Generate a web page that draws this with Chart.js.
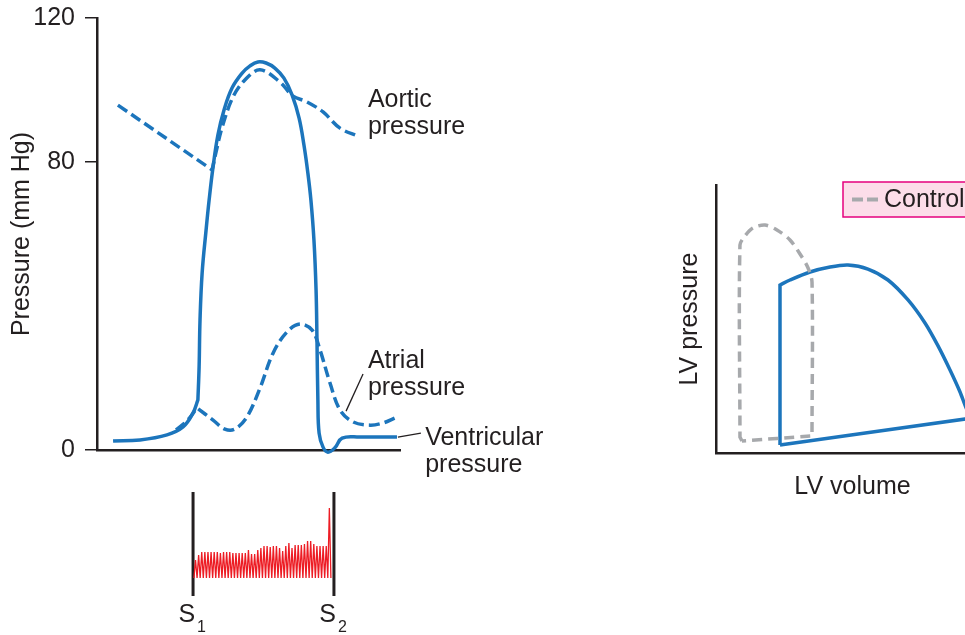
<!DOCTYPE html>
<html>
<head>
<meta charset="utf-8">
<script src="https://cdn.jsdelivr.net/npm/chart.js@4.4.0/dist/chart.umd.min.js"></script>
<style>
  html, body { margin: 0; padding: 0; background: #fff; overflow: hidden; width: 965px; height: 635px; }
  canvas { position: absolute; }
  #pressureChart { left: 0; top: 0; }
  #phonoChart { left: 0; top: 480px; }
  #loopChart { left: 620px; top: 150px; }
</style>
</head>
<body>
<canvas id="pressureChart" width="560" height="480"></canvas>
<canvas id="phonoChart" width="560" height="155"></canvas>
<canvas id="loopChart" width="500" height="360"></canvas>
<script>
// Left panel: time runs 0..1 across the axis, pressure in mm Hg
const pressureTicks = [0, 80, 120];

const ventricularTime = [0.053, 0.142, 0.231, 0.284, 0.317, 0.333, 0.333, 0.337, 0.340, 0.347, 0.360, 0.370, 0.383, 0.399, 0.419, 0.446, 0.479, 0.505, 0.531, 0.558, 0.587, 0.617, 0.644, 0.667, 0.683, 0.696, 0.706, 0.716, 0.723, 0.726, 0.729, 0.733, 0.746, 0.762, 0.785, 0.809, 0.868, 0.990];
const ventricularPressure = [2.5, 2.8, 4.2, 6.4, 10.3, 13.9, 13.9, 23.1, 36.1, 49.2, 61.1, 69.4, 78.6, 87.5, 94.4, 100.6, 104.7, 106.7, 107.8, 107.5, 106.1, 103.3, 98.6, 92.2, 84.7, 76.9, 69.4, 58.3, 44.4, 30.6, 13.9, 4.7, 0.8, -0.6, 0.6, 3.3, 3.6, 3.6];

const aorticTime = [0.069, 0.380, 0.380, 0.393, 0.413, 0.449, 0.488, 0.538, 0.604, 0.647, 0.693, 0.746, 0.802, 0.861];
const aorticPressure = [95.8, 77.8, 77.8, 82.8, 89.7, 98.1, 102.8, 105.6, 102.2, 98.3, 96.7, 93.9, 89.4, 87.2];

const atrialTime = [0.261, 0.297, 0.330, 0.330, 0.383, 0.422, 0.455, 0.495, 0.538, 0.581, 0.627, 0.670, 0.710, 0.736, 0.769, 0.802, 0.845, 0.901, 0.944, 0.983];
const atrialPressure = [5.6, 8.1, 11.7, 11.7, 8.3, 5.8, 5.8, 9.2, 17.2, 26.9, 32.8, 35.0, 33.3, 27.8, 18.6, 11.1, 7.8, 6.9, 7.5, 8.9];

// Phonocardiogram: heart sound times and murmur peak amplitudes
const soundTimes = [0.317, 0.782];
const soundNames = ["1", "2"];
const murmurStart = 0.320;
const murmurEnd = 0.772;
const murmurPeaks = [18, 23, 26, 26, 26, 26, 26, 26, 25, 26, 26, 26, 25, 25, 25, 25, 25, 28, 24, 24, 28, 30, 32, 32, 31, 32, 32, 30, 27, 32, 35, 30, 33, 33, 33, 34, 37, 37, 34, 32, 32, 32, 32, 70];

// Right panel: LV volume (mL) vs LV pressure (mm Hg)
const controlVolume = [37.1, 35.8, 35.8, 35.8, 39.1, 44.4, 52.3, 60.2, 68.8, 75.4, 80.7, 83.3, 83.3, 83.3, 37.1];
const controlPressure = [9.0, 11.9, 11.9, 155.2, 161.9, 167.9, 170.1, 166.4, 159.0, 148.5, 138.1, 127.6, 12.7, 12.7, 9.0];
const loopVolume = [62.2, 62.2, 62.2, 62.2, 68.8, 82.0, 95.2, 107.0, 120.2, 133.4, 146.6, 157.8, 166.4, 174.3, 180.9, 185.5, 188.8, 188.8, 62.2];
const loopPressure = [6.0, 6.0, 125.4, 125.4, 129.1, 135.1, 138.8, 140.3, 137.3, 129.1, 114.2, 97.0, 79.9, 61.9, 45.5, 32.1, 26.1, 26.1, 6.0];

const blue = '#1c75bc';
const ink = '#231f20';
const fontFamily = '"Liberation Sans", Arial, sans-serif';

Chart.defaults.font.family = fontFamily;
Chart.defaults.color = ink;

const zip = (xs, ys) => xs.map((x, i) => ({ x: x, y: ys[i] }));

// Labels and leader lines of the left panel, anchored in data units
const noteTexts = [["Aortic", "pressure"], ["Atrial", "pressure"], ["Ventricular", "pressure"]];
const noteAnchors = [{ t: 0.894, p: 95.3 }, { t: 0.894, p: 22.8 }, { t: 1.083, p: 1.4 }];
const leaderLines = [[{ t: 0.822, p: 10.8 }, { t: 0.878, p: 21.1 }], [{ t: 0.993, p: 3.6 }, { t: 1.069, p: 4.7 }]];

const pressureNotes = {
    id: 'pressureNotes',
    afterDatasetsDraw(chart) {
        const { ctx, scales: { x, y } } = chart;
        ctx.save();
        ctx.fillStyle = ink;
        ctx.font = '25px ' + fontFamily;
        ctx.textBaseline = 'alphabetic';
        noteTexts.forEach((lines, i) => {
            const a = noteAnchors[i];
            lines.forEach((s, k) => {
                ctx.fillText(s, x.getPixelForValue(a.t), y.getPixelForValue(a.p) + k * 27);
            });
        });
        ctx.strokeStyle = ink;
        ctx.lineWidth = 1.3;
        leaderLines.forEach(seg => {
            ctx.beginPath();
            ctx.moveTo(x.getPixelForValue(seg[0].t), y.getPixelForValue(seg[0].p));
            ctx.lineTo(x.getPixelForValue(seg[1].t), y.getPixelForValue(seg[1].p));
            ctx.stroke();
        });
        ctx.restore();
    }
};

new Chart(document.getElementById('pressureChart'), {
    type: 'scatter',
    data: {
        datasets: [
            { data: zip(aorticTime, aorticPressure), borderColor: blue, borderWidth: 3.5, borderDash: [11, 5], showLine: true, pointRadius: 0, tension: 0.35 },
            { data: zip(atrialTime, atrialPressure), borderColor: blue, borderWidth: 3.5, borderDash: [11, 5], showLine: true, pointRadius: 0, tension: 0.35 },
            { data: zip(ventricularTime, ventricularPressure), borderColor: blue, borderWidth: 3.5, showLine: true, pointRadius: 0, tension: 0.4, clip: false }
        ]
    },
    options: {
        responsive: false,
        animation: false,
        events: [],
        layout: { padding: { top: 18, right: 160, bottom: 0, left: 0 } },
        plugins: { legend: { display: false }, tooltip: { enabled: false } },
        scales: {
            x: {
                type: 'linear', min: 0, max: 1,
                ticks: { display: false },
                grid: { display: false },
                border: { color: ink, width: 2.5 },
                afterFit: (s) => { s.height = 30; s.paddingLeft = 0; s.paddingRight = 0; }
            },
            y: {
                min: 0, max: 120,
                afterBuildTicks: (s) => { s.ticks = pressureTicks.map(v => ({ value: v })); },
                ticks: { font: { size: 25 }, color: ink, padding: 10 },
                grid: { drawOnChartArea: false, tickLength: 12, color: ink, lineWidth: 1.5 },
                border: { color: ink, width: 2.5 },
                title: { display: true, text: 'Pressure (mm Hg)', font: { size: 25 }, color: ink, padding: { top: 7, bottom: 0 } },
                afterFit: (s) => { s.width = 97; s.paddingTop = 0; s.paddingBottom = 0; }
            }
        }
    },
    plugins: [pressureNotes]
});

// Phonocardiogram trace built from the peak list
const murmurPoints = [];
const stepT = (murmurEnd - murmurStart) / (murmurPeaks.length * 2);
murmurPoints.push({ x: murmurStart, y: 0 });
murmurPeaks.forEach((amp, i) => {
    murmurPoints.push({ x: murmurStart + (2 * i + 1) * stepT, y: amp });
    murmurPoints.push({ x: murmurStart + (2 * i + 2) * stepT, y: 0 });
});

const soundLabels = {
    id: 'soundLabels',
    afterDatasetsDraw(chart) {
        const { ctx, scales: { x } } = chart;
        ctx.save();
        ctx.fillStyle = ink;
        soundTimes.forEach((t, i) => {
            const px = x.getPixelForValue(t);
            ctx.font = '25px ' + fontFamily;
            ctx.textAlign = 'right';
            ctx.fillText('S', px + 2, 142);
            ctx.font = '16px ' + fontFamily;
            ctx.textAlign = 'left';
            ctx.fillText(soundNames[i], px + 4, 152);
        });
        ctx.restore();
    }
};

new Chart(document.getElementById('phonoChart'), {
    type: 'scatter',
    data: {
        datasets: [
            { data: murmurPoints, borderColor: '#ed1c24', borderWidth: 1.3, showLine: true, pointRadius: 0, tension: 0 },
            ...soundTimes.map(t => ({ data: [{ x: t, y: -18 }, { x: t, y: 86 }], borderColor: ink, borderWidth: 3, showLine: true, pointRadius: 0, clip: false }))
        ]
    },
    options: {
        responsive: false,
        animation: false,
        events: [],
        layout: { padding: { top: 12, right: 160, bottom: 39, left: 97 } },
        plugins: { legend: { display: false }, tooltip: { enabled: false } },
        scales: {
            x: { type: 'linear', min: 0, max: 1, display: false },
            y: { min: -18, max: 86, display: false }
        }
    },
    plugins: [soundLabels]
});

// Legend box of the PV loop panel
const controlLegend = {
    id: 'controlLegend',
    afterDraw(chart) {
        const ctx = chart.ctx;
        ctx.save();
        ctx.fillStyle = '#fcdde9';
        ctx.strokeStyle = '#e5007e';
        ctx.lineWidth = 1.5;
        ctx.fillRect(223, 32, 400, 35);
        ctx.strokeRect(223, 32, 400, 35);
        ctx.strokeStyle = '#a7a9ac';
        ctx.lineWidth = 4;
        ctx.setLineDash([11, 4]);
        ctx.beginPath();
        ctx.moveTo(232, 49.5);
        ctx.lineTo(259, 49.5);
        ctx.stroke();
        ctx.fillStyle = ink;
        ctx.font = '25px ' + fontFamily;
        ctx.textBaseline = 'middle';
        ctx.fillText('Control', 264, 50);
        ctx.restore();
    }
};

new Chart(document.getElementById('loopChart'), {
    type: 'scatter',
    data: {
        datasets: [
            { label: 'Control', data: zip(controlVolume, controlPressure), borderColor: '#a7a9ac', borderWidth: 3.5, borderDash: [10, 6], showLine: true, pointRadius: 0, tension: 0.3 },
            { data: zip(loopVolume, loopPressure), borderColor: blue, borderWidth: 3.5, showLine: true, pointRadius: 0, tension: 0.3 }
        ]
    },
    options: {
        responsive: false,
        animation: false,
        events: [],
        layout: { padding: { top: 35, right: 131, bottom: 0, left: 0 } },
        plugins: { legend: { display: false }, tooltip: { enabled: false } },
        scales: {
            x: {
                type: 'linear', min: 20, max: 200,
                ticks: { display: false },
                grid: { display: false },
                border: { color: ink, width: 2.5 },
                title: { display: true, text: 'LV volume', font: { size: 25 }, color: ink, padding: { top: 0, bottom: 8 } },
                afterFit: (s) => { s.height = 57; s.paddingLeft = 0; s.paddingRight = 0; }
            },
            y: {
                min: 0, max: 200,
                ticks: { display: false },
                grid: { display: false },
                border: { color: ink, width: 2.5 },
                title: { display: true, text: 'LV pressure', font: { size: 25 }, color: ink, padding: { top: 55, bottom: 0 } },
                afterFit: (s) => { s.width = 96; s.paddingTop = 0; s.paddingBottom = 0; }
            }
        }
    },
    plugins: [controlLegend]
});
</script>
</body>
</html>
